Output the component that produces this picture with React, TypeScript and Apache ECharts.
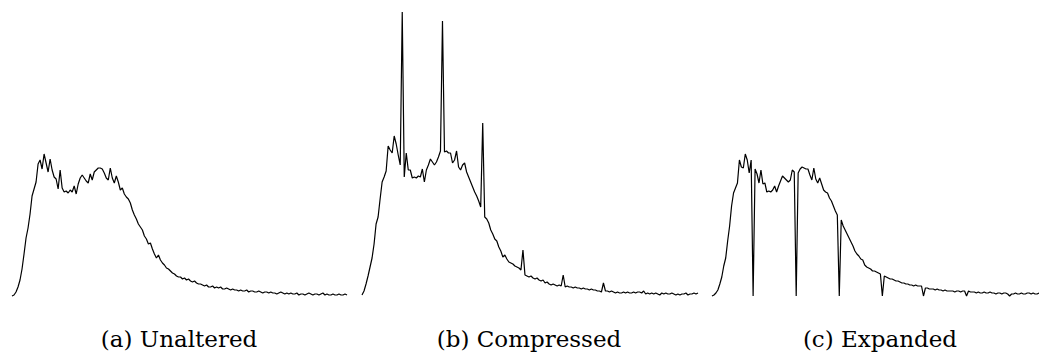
import React, { useEffect, useRef } from "react";
import * as echarts from "echarts";

// Histogram heights (pixel-scaled units), one value per bin
const unaltered: number[] = [
  0, 1, 4, 9, 16, 27, 42, 58, 68, 82,
  100, 107, 114, 132, 136, 127, 142, 133, 124, 137,
  126, 119, 117, 107, 126, 108, 104, 105, 103, 106,
  104, 110, 102, 112, 118, 121, 118, 115, 113, 122,
  116, 124, 126, 128, 128, 127, 123, 118, 116, 128,
  118, 113, 120, 114, 106, 108, 102, 99, 97, 93,
  86, 81, 77, 72, 69, 66, 60, 57, 52, 53,
  47, 42, 38, 41, 36, 33, 31, 28, 27, 25,
  23, 22, 20, 19, 19, 17, 18, 16, 17, 15,
  14, 15, 13, 12, 12, 11, 10, 11, 9, 9,
  10, 8, 9, 8, 9, 7, 7, 8, 7, 6,
  7, 6, 6, 5, 6, 5, 5, 6, 4, 5,
  5, 4, 4, 5, 4, 3, 4, 4, 3, 4,
  3, 3, 2, 3, 4, 3, 2, 3, 2, 3,
  2, 2, 3, 1, 2, 2, 1, 2, 3, 2,
  1, 2, 2, 1, 2, 3, 1, 2, 1, 1,
  2, 1, 1, 2, 1, 1, 2, 1,
];

const compressed: number[] = [
  1, 5, 12, 20, 29, 38, 52, 72, 79, 97,
  114, 119, 125, 150, 146, 143, 160, 152, 141, 131,
  284, 119, 143, 126, 126, 118, 119, 118, 120, 119,
  127, 114, 126, 131, 137, 134, 131, 134, 139, 145,
  275, 144, 145, 143, 143, 133, 136, 145, 129, 126,
  131, 133, 124, 119, 114, 109, 104, 100, 95, 89,
  173, 79, 77, 73, 66, 62, 57, 55, 49, 45,
  39, 41, 37, 34, 33, 32, 30, 29, 28, 26,
  46, 21, 20, 19, 20, 18, 17, 18, 16, 15,
  16, 13, 14, 12, 11, 12, 11, 10, 11, 10,
  21, 9, 10, 9, 9, 8, 9, 8, 8, 7,
  8, 7, 7, 6, 7, 6, 6, 5, 5, 4,
  13, 5, 5, 4, 5, 4, 3, 4, 3, 3,
  4, 3, 4, 3, 3, 4, 3, 4, 4, 3,
  5, 2, 3, 2, 3, 2, 3, 2, 1, 3,
  2, 3, 2, 2, 3, 2, 1, 2, 1, 2,
  2, 3, 1, 2, 2, 3, 2, 3,
];

const expanded: number[] = [
  0, 1, 3, 6, 12, 19, 30, 38, 55, 70,
  90, 103, 108, 113, 136, 129, 128, 142, 136, 123,
  136, 0, 127, 122, 113, 126, 112, 113, 104, 105,
  104, 106, 110, 104, 110, 115, 120, 118, 116, 114,
  116, 126, 124, 0, 123, 127, 129, 128, 127, 127,
  121, 116, 128, 117, 113, 118, 112, 106, 104, 103,
  98, 95, 90, 85, 81, 0, 76, 70, 66, 62,
  58, 54, 50, 45, 42, 40, 37, 36, 31, 29,
  28, 27, 25, 25, 24, 23, 22, 0, 20, 19,
  18, 17, 17, 16, 15, 15, 14, 13, 13, 12,
  12, 11, 11, 10, 11, 10, 10, 10, 0, 8,
  8, 7, 7, 7, 6, 7, 6, 6, 5, 6,
  5, 5, 5, 5, 4, 5, 5, 4, 5, 5,
  0, 5, 4, 4, 4, 3, 4, 3, 3, 4,
  3, 3, 4, 3, 3, 2, 3, 3, 2, 3,
  3, 2, 0, 2, 2, 3, 2, 2, 3, 2,
  2, 3, 3, 2, 3, 2, 2, 3,
];

const captions: string[] = ["(a) Unaltered", "(b) Compressed", "(c) Expanded"];

const bins: string[] = unaltered.map((_, i) => String(i));

export default function App() {
  const ref = useRef<HTMLDivElement>(null);

  useEffect(() => {
    if (!ref.current) return;
    const chart = echarts.init(ref.current, undefined, { renderer: "svg" });
    const seriesData = [unaltered, compressed, expanded];
    const grids = [
      { left: 12, top: 10, width: 335, height: 286 },
      { left: 362, top: 10, width: 336, height: 286 },
      { left: 712, top: 10, width: 335, height: 286 },
    ];
    const captionX = [179, 529, 880];
    chart.setOption({
      animation: false,
      backgroundColor: "#ffffff",
      grid: grids,
      xAxis: grids.map((_, k) => ({
        type: "category",
        gridIndex: k,
        data: bins,
        boundaryGap: false,
        show: false,
      })),
      yAxis: grids.map((_, k) => ({
        type: "value",
        gridIndex: k,
        min: 0,
        max: 286,
        show: false,
      })),
      series: seriesData.map((d, k) => ({
        type: "line",
        xAxisIndex: k,
        yAxisIndex: k,
        data: d,
        symbol: "none",
        lineStyle: { color: "#000000", width: 1.2 },
        clip: false,
      })),
      graphic: captions.map((c, k) => ({
        type: "text",
        x: captionX[k],
        y: 339,
        style: {
          text: c,
          fill: "#000000",
          fontFamily: "DejaVu Serif",
          fontSize: 23,
          align: "center",
          verticalAlign: "middle",
        },
      })),
    });
    return () => chart.dispose();
  }, []);

  return (
    <div
      ref={ref}
      style={{ position: "fixed", left: 0, top: 0, width: 1039, height: 353 }}
    />
  );
}
